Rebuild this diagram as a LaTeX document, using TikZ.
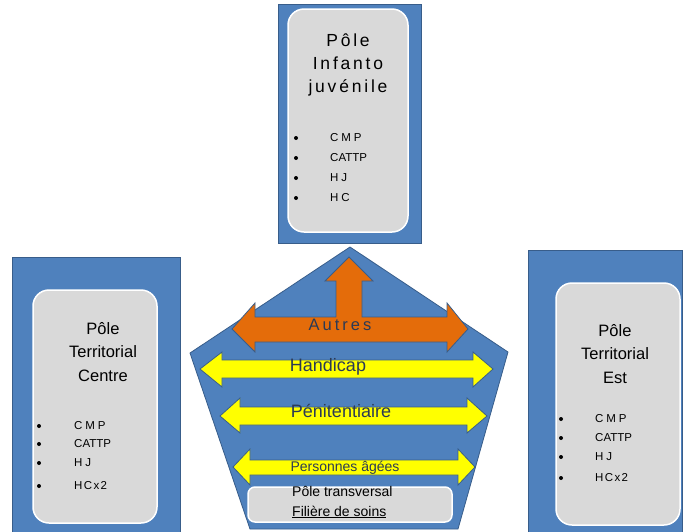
\documentclass[tikz,border=0pt]{standalone}
\usepackage{fontspec}
\setmainfont{Liberation Sans}
\definecolor{pblue}{HTML}{4F81BD}
\definecolor{pedge}{HTML}{385D8A}
\definecolor{pgray}{HTML}{D9D9D9}
\definecolor{porange}{HTML}{E46C0A}
\definecolor{pyellow}{HTML}{FFFF00}
\definecolor{ptext}{HTML}{2B3A55}
\tikzset{
  bluebox/.style={fill=pblue,draw=pedge,line width=0.8pt},
  graybox/.style={fill=pgray,draw=white,line width=1.5pt,rounded corners=16pt},
  yarrow/.style={fill=pyellow,draw=pedge,line width=0.8pt},
  oarrow/.style={fill=porange,draw=pedge,line width=0.8pt},
  title/.style={align=center,font=\fontsize{16}{23}\selectfont,text=black,inner sep=0pt},
  item/.style={anchor=west,font=\fontsize{11.5}{13}\selectfont,inner sep=0pt},
  dot/.style={circle,fill=black,inner sep=0pt,minimum size=4pt},
  band/.style={font=\fontsize{18}{20}\selectfont,text=ptext,inner sep=0pt}
}
\begin{document}
\begin{tikzpicture}[x=1pt,y=-1pt]
\useasboundingbox (0,0) rectangle (686,531);
% outer blue boxes
\draw[bluebox] (278,4) rectangle (421,243);
\draw[bluebox] (12,257) rectangle (180,535);
\draw[bluebox] (528,250) rectangle (682,535);
% inner gray boxes
\draw[graybox] (288,9) rectangle (408,232);
\draw[graybox] (33,290) rectangle (157,523);
\draw[graybox] (556,283) rectangle (680,525);
% titles
\node[title,font=\fontsize{17.5}{23}\selectfont\addfontfeature{LetterSpace=16}] (tinf) at (348,65) {Pôle\\Infanto\\juvénile};
\node[title,font=\fontsize{16.5}{23.5}\selectfont] (tcen) at (103,352) {Pôle\\Territorial\\Centre};
\node[title,font=\fontsize{16.5}{23.5}\selectfont] (test) at (615,354) {Pôle\\Territorial\\Est};
% lists top
\foreach \yy/\tt [count=\i] in {138/{\addfontfeature{LetterSpace=25}CMP},158/CATTP,178/{\addfontfeature{LetterSpace=25}HJ},198/{\addfontfeature{LetterSpace=25}HC}}{
  \node[dot] (tb\i) at (296,\yy) {};
  \node[item] (ti\i) at (330,\yy) {\tt};
}
% lists left
\foreach \yy/\tt [count=\i] in {426/{\addfontfeature{LetterSpace=25}CMP},444/CATTP,463/{\addfontfeature{LetterSpace=25}HJ},486/{\addfontfeature{LetterSpace=12}HCx2}}{
  \node[dot] (lb\i) at (39,\yy) {};
  \node[item] (li\i) at (74,\yy) {\tt};
}
% lists right
\foreach \yy/\tt [count=\i] in {419/{\addfontfeature{LetterSpace=25}CMP},438/CATTP,457/{\addfontfeature{LetterSpace=25}HJ},478/{\addfontfeature{LetterSpace=12}HCx2}}{
  \node[dot] (rb\i) at (561,\yy) {};
  \node[item] (ri\i) at (595,\yy) {\tt};
}
% pentagon
\draw[bluebox] (350,247) -- (508,352) -- (458,529) -- (250,529) -- (190,353) -- cycle;
% orange arrow
\draw[oarrow] (232,329) -- (255,303) -- (255,317) -- (336,317) -- (336,281) -- (325,281)
  -- (349,257) -- (373,281) -- (362,281) -- (362,317) -- (447,317) -- (447,303)
  -- (468,329) -- (447,352) -- (447,342) -- (255,342) -- (255,352) -- cycle;
% yellow arrows
\draw[yarrow] (200,369) -- (222,352) -- (222,360) -- (473,360) -- (473,352) -- (493,369)
  -- (473,387) -- (473,378) -- (222,378) -- (222,387) -- cycle;
\draw[yarrow] (220,416) -- (240,398) -- (240,407) -- (467,407) -- (467,398) -- (487,416)
  -- (467,433) -- (467,425) -- (240,425) -- (240,433) -- cycle;
\draw[yarrow] (233,467) -- (250,449) -- (250,460) -- (458,460) -- (458,449) -- (475,467)
  -- (458,485) -- (458,475) -- (250,475) -- (250,485) -- cycle;
% bottom gray box
\draw[fill=pgray,draw=white,line width=1.5pt,rounded corners=7pt] (248,487) rectangle (452,522);
% band labels
\node[band,font=\fontsize{16.5}{18}\selectfont\addfontfeature{LetterSpace=18}] (autres) at (340,325) {Autres};
\node[band] (hand) at (328,367) {Handicap};
\node[band] (peni) at (341,411) {Pénitentiaire};
\node[band,font=\fontsize{14}{16}\selectfont] (pers) at (345,468) {Personnes âgées};
\node[item,font=\fontsize{14}{16}\selectfont] (ptrans) at (292,491) {Pôle transversal};
\node[item,font=\fontsize{14}{16}\selectfont] (fil) at (292,512) {\underline{Filière de soins}};
\end{tikzpicture}
\end{document}
